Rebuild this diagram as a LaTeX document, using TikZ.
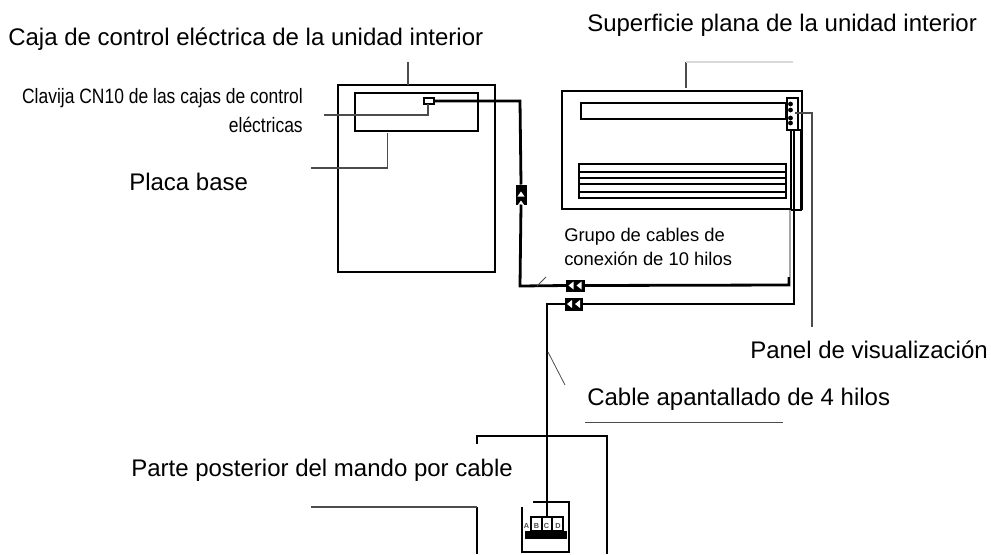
\documentclass[tikz,border=0pt]{standalone}
\usepackage{xcolor}
\usepackage{fontspec}
\setmainfont{Liberation Sans}
\newfontfamily\narrowfont[FakeStretch=0.84]{Liberation Sans}
\usetikzlibrary{positioning}
\definecolor{leadergray}{rgb}{0.3,0.3,0.3}
\def\px{0.75pt}

\begin{document}
\begin{tikzpicture}[x=0.75pt,y=-0.75pt]
\tikzset{
	unitbox/.style = {rectangle, draw=black, line width=2.1pt, inner sep=0, outer sep=0},
	plug/.style = {rectangle, fill=black, inner sep=0, outer sep=0},
	cable/.style = {draw=black, line width=2.1pt},
	leader/.style = {draw=leadergray, line width=0.8pt},
	biglabel/.style = {anchor=base west, inner sep=0, font=\fontsize{18}{21}\selectfont},
	midlabel/.style = {anchor=base west, inner sep=0, font=\fontsize{13.8}{16}\selectfont, align=left},
	narrowlabel/.style = {anchor=base east, inner sep=0, font=\narrowfont\fontsize{15.6}{18}\selectfont},
	pinlabel/.style = {inner sep=0, text=black!70, font=\bfseries\fontsize{5.5}{6}\selectfont},
}
\useasboundingbox (0,0) rectangle (991,554);

\node (caja) [unitbox, minimum width=157*\px, minimum height=187*\px] at (416.5,178.5) {};
\node (placa) [unitbox, minimum width=123*\px, minimum height=38*\px] at (416.5,112) {};
\node (clavija) [unitbox, line width=1.6pt, minimum width=10*\px, minimum height=6*\px] at (429,101) {};

\node (superficie) [unitbox, minimum width=240*\px, minimum height=118*\px] at (682,150) {};
\node (ranura) [unitbox, minimum width=205*\px, minimum height=16*\px] at (683.5,111) {};
\node (rejilla) [unitbox, minimum width=207*\px, minimum height=34*\px] at (682.5,181) {};
\draw[cable] (rejilla.west |- 0,172) -- (rejilla.east |- 0,172);
\draw[cable] (rejilla.west |- 0,178) -- (rejilla.east |- 0,178);
\draw[cable] (rejilla.west |- 0,184) -- (rejilla.east |- 0,184);
\draw[cable] (rejilla.west |- 0,192) -- (rejilla.east |- 0,192);
\node (panel) [unitbox, fill=white, minimum width=11*\px, minimum height=32*\px] at (792.5,114) {};
\foreach \y in {104,110,118,123}
	\fill (790.5,\y) circle (2.4);
\node (tubo) [unitbox, fill=white, minimum width=10*\px, minimum height=80*\px] at (796,170) {};

% conectores
\node (plugA) [plug, minimum width=11*\px, minimum height=20*\px] at (521,194.5) {};
\node (plugB) [plug, minimum width=19*\px, minimum height=12*\px] at (575.5,285.5) {};
\node (plugC) [plug, minimum width=18*\px, minimum height=13*\px] at (574,304) {};
\foreach \n in {plugB,plugC} {
	\fill[white] ([xshift=-7*\px]\n.center) -- ++(5,-4) -- ++(0,8) -- cycle;
	\fill[white] ([xshift=1*\px]\n.center) -- ++(5,-4) -- ++(0,8) -- cycle;
}
\fill[white] ([yshift=3*\px]plugA.center) -- ++(-3.5,5) -- ++(7,0) -- cycle;
\fill[white] ([yshift=-6*\px]plugA.center) -- ++(-3.5,5) -- ++(7,0) -- cycle;

% mando por cable
\node (bloque) [plug, minimum width=42*\px, minimum height=8*\px] at (546,535) {};
\node (pinB) [unitbox, minimum width=11*\px, minimum height=14*\px] at (536.5,524) {};
\node (pinC) [unitbox, minimum width=10*\px, minimum height=14*\px] at (547,524) {};
\node (pinD) [unitbox, minimum width=11*\px, minimum height=14*\px] at (557.5,524) {};
\node [pinlabel] at (526.5,525.5) {A};
\node [pinlabel] at (536.5,525.5) {B};
\node [pinlabel] at (546.5,525.5) {C};
\node [pinlabel] at (558,525.5) {D};
\draw[cable] (477,444) -- (477,436) -- (607,436) -- (607,554);
\draw[cable] (477,507) -- (477,554);
\draw[cable] (533,502) -- (569,502) -- (569,552) -- (522,552) -- (522,507);

% cables
\draw[cable] (clavija.east) -- (520,101) -- (plugA.north);
\draw[cable] (plugA.south) -- (520,286) -- (plugB.west);
\draw[cable] (plugB.east) -- (789,285) -- (789,277);
\draw[cable] (plugC.west) -- (547,304) -- (pinC.north);
\draw[cable] (plugC.east) -- (794,304) -- (tubo.south -| 794,0);
\draw[cable] (panel.south -| 794,0) -- (tubo.south -| 794,0);
\draw[leader, draw=black!35] (790,210) -- (790,277);

% textos
\node (tcaja) [biglabel] at (8,45) {Caja de control eléctrica de la unidad interior};
\node (tsuperficie) [biglabel] at (587,31) {Superficie plana de la unidad interior};
\node (tclavija) [narrowlabel] at (303,103) {Clavija CN10 de las cajas de control};
\node (telectricas) [narrowlabel] at (303,132) {eléctricas};
\node (tplaca) [biglabel] at (129,190) {Placa base};
\node (tgrupo) [midlabel] at (564,241) {Grupo de cables de};
\node (tconexion) [midlabel] at (564,265) {conexión de 10 hilos};
\node (tpanel) [biglabel] at (750,358) {Panel de visualización};
\node (tapantallado) [biglabel] at (587,405) {Cable apantallado de 4 hilos};
\node (tposterior) [biglabel] at (131,476) {Parte posterior del mando por cable};

% lineas de referencia
\draw[leader] (408,62) -- (caja.north -| 408,0);
\draw[leader] (324,115) -- (428,115) -- (clavija.south -| 428,0);
\draw[leader] (311,168) -- (387.5,168) -- (387.5,133);
\draw[leader] (686,88) -- (686,62);
\draw[leader, draw=black!15] (686,62) -- (793,62);
\draw[leader] (795,113) -- (812,113) -- (812,327);
\draw[leader, line width=0.6pt] (537,286) -- (546,277);
\draw[leader, line width=0.6pt] (548,352) -- (565,385);
\draw[leader, line width=0.6pt] (585,422) -- (783,422);
\draw[leader] (311,507) -- (477,507);

\end{tikzpicture}
\end{document}
